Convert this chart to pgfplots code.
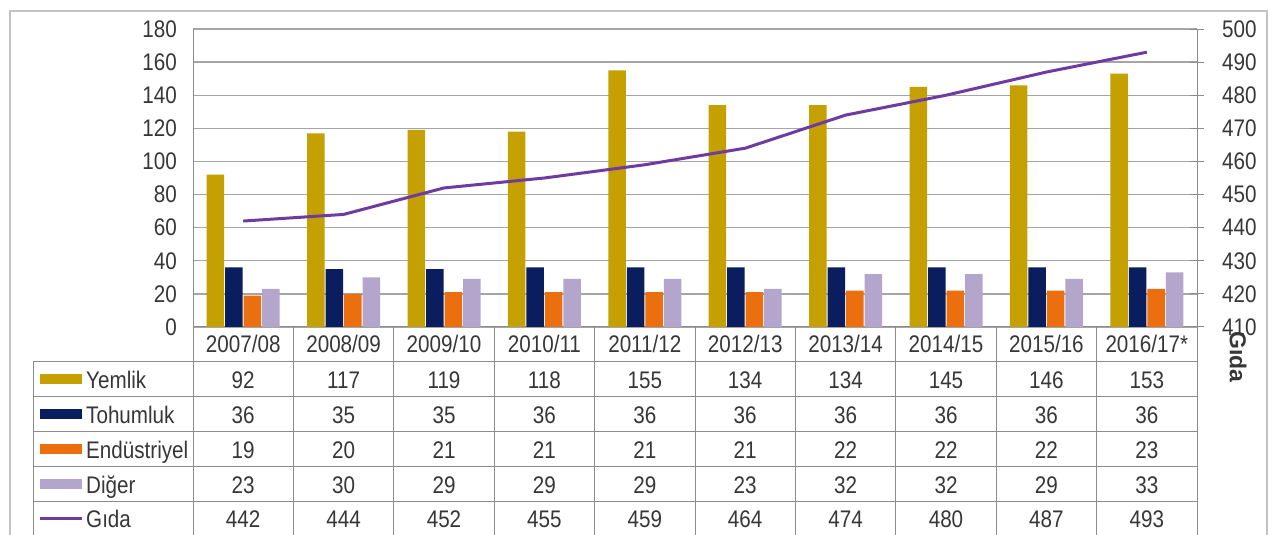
\documentclass[border=0pt]{standalone}
\usepackage{pgfplots}
\pgfplotsset{compat=1.18}
\usepackage{fontspec}
\setmainfont{Liberation Sans}[FakeStretch=0.86]
\newfontfamily\plainfont{Liberation Sans}
\definecolor{cYem}{RGB}{196,160,0}
\definecolor{cToh}{RGB}{10,30,95}
\definecolor{cEnd}{RGB}{235,110,15}
\definecolor{cDig}{RGB}{180,165,205}
\definecolor{cGid}{RGB}{110,60,160}
\definecolor{gridc}{RGB}{165,165,165}
\definecolor{linec}{RGB}{140,140,140}
\definecolor{framec}{RGB}{195,195,195}
\definecolor{txt}{RGB}{55,55,55}
\newcommand\bigf{\fontsize{24}{28}\selectfont}
\begin{document}
\begin{tikzpicture}[x=1pt,y=1pt]
\useasboundingbox (0,0) rectangle (1272,535);
\fill[white] (0,0) rectangle (1272,535);
\draw[framec, line width=1.5pt] (10,0) -- (10,524) -- (1267,524) -- (1267,0);
\begin{axis}[at={(193pt,208pt)}, anchor=south west, width=1004pt, height=298pt, scale only axis,
 xmin=-0.5, xmax=9.5, ymin=0, ymax=180, ytick={0,20,...,180},
 xtick={0,...,9}, xticklabels={2007/08,2008/09,2009/10,2010/11,2011/12,2012/13,2013/14,2014/15,2015/16,2016/17*},
 axis x line*=bottom, axis y line*=left, axis line style={-, draw=linec, line width=1pt},
 ymajorgrids, grid style={draw=gridc, line width=1.4pt},
 tick style={draw=none},
 tick label style={font=\bigf, text=txt},
 /pgf/number format/assume math mode=true,
 xticklabel style={anchor=center, inner sep=0pt, yshift=-17pt},
 yticklabel style={anchor=east, inner sep=0pt, xshift=-16pt},
 clip=false]
\addplot[ybar, bar width=17.5pt, bar shift=-27.75pt, fill=cYem, draw=none] coordinates {(0,92)(1,117)(2,119)(3,118)(4,155)(5,134)(6,134)(7,145)(8,146)(9,153)};
\addplot[ybar, bar width=17.5pt, bar shift=-9.25pt, fill=cToh, draw=none] coordinates {(0,36)(1,35)(2,35)(3,36)(4,36)(5,36)(6,36)(7,36)(8,36)(9,36)};
\addplot[ybar, bar width=17.5pt, bar shift=9.25pt, fill=cEnd, draw=none] coordinates {(0,19)(1,20)(2,21)(3,21)(4,21)(5,21)(6,22)(7,22)(8,22)(9,23)};
\addplot[ybar, bar width=17.5pt, bar shift=27.75pt, fill=cDig, draw=none] coordinates {(0,23)(1,30)(2,29)(3,29)(4,29)(5,23)(6,32)(7,32)(8,29)(9,33)};
\end{axis}
\begin{axis}[at={(193pt,208pt)}, anchor=south west, width=1004pt, height=298pt, scale only axis,
 xmin=-0.5, xmax=9.5, ymin=410, ymax=500, ytick={410,420,...,500},
 axis y line*=right, axis x line=none, axis line style={-, draw=linec, line width=1pt},
 tick align=center, major tick length=14pt, ytick style={draw=linec, line width=1pt},
 tick label style={font=\bigf, text=txt},
 /pgf/number format/assume math mode=true,
 yticklabel style={anchor=west, inner sep=0pt, xshift=18pt},
 clip=false]
\addplot[cGid, line width=3pt, mark=none] coordinates {(0,442)(1,444)(2,452)(3,455)(4,459)(5,464)(6,474)(7,480)(8,487)(9,493)};
\end{axis}
% table
\foreach \y in {173,138,103,68,33} \draw[linec, line width=1pt] (33,\y) -- (1197,\y);
\draw[linec, line width=1pt] (33,173) -- (33,0);
\foreach \k in {0,...,10} \draw[linec, line width=1pt] ({193+\k*100.4},208) -- ({193+\k*100.4},0);
\foreach \v [count=\i from 0] in {92,117,119,118,155,134,134,145,146,153}
  \node[font=\bigf, text=txt, anchor=base, inner sep=0pt] at ({193+(\i+0.5)*100.4},146.9) {\v};
\foreach \v [count=\i from 0] in {36,35,35,36,36,36,36,36,36,36}
  \node[font=\bigf, text=txt, anchor=base, inner sep=0pt] at ({193+(\i+0.5)*100.4},111.9) {\v};
\foreach \v [count=\i from 0] in {19,20,21,21,21,21,22,22,22,23}
  \node[font=\bigf, text=txt, anchor=base, inner sep=0pt] at ({193+(\i+0.5)*100.4},76.9) {\v};
\foreach \v [count=\i from 0] in {23,30,29,29,29,23,32,32,29,33}
  \node[font=\bigf, text=txt, anchor=base, inner sep=0pt] at ({193+(\i+0.5)*100.4},41.9) {\v};
\foreach \v [count=\i from 0] in {442,444,452,455,459,464,474,480,487,493}
  \node[font=\bigf, text=txt, anchor=base, inner sep=0pt] at ({193+(\i+0.5)*100.4},7.9) {\v};
% legend column
\fill[cYem] (40,150.5) rectangle (82,160.5);
\fill[cToh] (40,115.5) rectangle (82,125.5);
\fill[cEnd] (40,80.5) rectangle (82,90.5);
\fill[cDig] (40,45.5) rectangle (82,55.5);
\draw[cGid, line width=3pt] (40,16.5) -- (82,16.5);
\node[font=\bigf, text=txt, anchor=base west, inner sep=0pt] at (86,146.9) {Yemlik};
\node[font=\bigf, text=txt, anchor=base west, inner sep=0pt] at (86,111.9) {Tohumluk};
\node[font=\bigf, text=txt, anchor=base west, inner sep=0pt] at (86,76.9) {Endüstriyel};
\node[font=\bigf, text=txt, anchor=base west, inner sep=0pt] at (86,41.9) {Diğer};
\node[font=\bigf, text=txt, anchor=base west, inner sep=0pt] at (86,7.9) {Gıda};
\node[font=\plainfont\bfseries\fontsize{23}{26}\selectfont, text=txt, rotate=-90, inner sep=0pt] at (1238,178) {Gıda};
\end{tikzpicture}
\end{document}
